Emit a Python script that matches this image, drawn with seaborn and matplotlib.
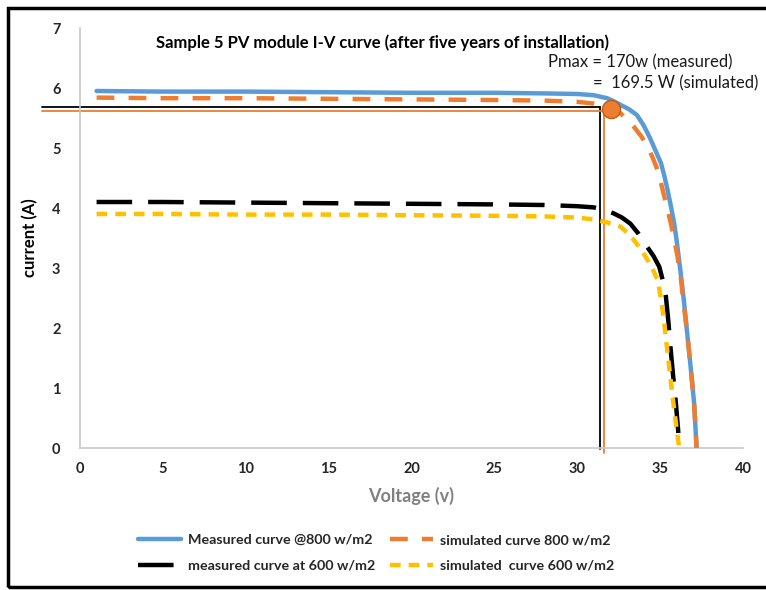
import matplotlib
matplotlib.use("Agg")
import matplotlib.pyplot as plt
import seaborn as sns
from matplotlib.patches import Rectangle

# measured curve @800 w/m2 (blue, solid)
v_meas_800 = [1, 5, 10, 15, 20, 25, 28, 30, 31, 31.8, 32.2, 32.6, 33.1, 33.6, 34.0, 34.4, 34.7, 35.05, 35.25,
              35.45, 35.65, 35.85, 36.0, 36.15, 36.3, 36.45, 36.6, 36.75, 36.9, 37.05, 37.2]
i_meas_800 = [5.95, 5.94, 5.94, 5.93, 5.92, 5.92, 5.91, 5.90, 5.88, 5.83, 5.78, 5.72, 5.65, 5.55, 5.38, 5.16, 4.97,
              4.75, 4.54, 4.30, 4.03, 3.74, 3.45, 3.12, 2.78, 2.41, 2.00, 1.60, 1.18, 0.75, 0.0]

# simulated curve 800 w/m2 (orange, dashed)
v_sim_800 = [1, 5, 10, 15, 20, 25, 28, 30, 31, 31.6, 32.1, 32.6, 33.0, 33.4, 33.85, 34.25, 34.55, 34.85, 35.05,
             35.25, 35.45, 35.65, 35.85, 36.05, 36.25, 36.4, 36.6, 36.75, 36.9, 37.05, 37.2]
i_sim_800 = [5.84, 5.83, 5.83, 5.82, 5.81, 5.80, 5.79, 5.77, 5.74, 5.70, 5.66, 5.58, 5.48, 5.36, 5.20, 5.02, 4.84,
             4.63, 4.42, 4.19, 3.97, 3.74, 3.47, 3.19, 2.83, 2.45, 2.00, 1.60, 1.18, 0.75, 0.0]

# measured curve at 600 w/m2 (black, long dashes)
v_meas_600 = [1, 5, 10, 15, 20, 25, 28, 30, 31, 31.6, 32.2, 32.7, 33.2, 33.7, 34.2, 34.6, 34.95, 35.2, 35.35,
              35.5, 35.6, 35.75, 35.95, 36.1, 36.15]
i_meas_600 = [4.10, 4.10, 4.09, 4.08, 4.07, 4.06, 4.05, 4.03, 4.01, 3.97, 3.91, 3.84, 3.74, 3.57, 3.36, 3.20,
              3.02, 2.75, 2.52, 2.10, 1.75, 1.30, 0.75, 0.25, 0.0]

# simulated curve 600 w/m2 (yellow, short dashes)
v_sim_600 = [1, 5, 10, 15, 20, 25, 28, 30, 31, 31.8, 32.6, 33.0, 33.4, 33.85, 34.25, 34.6, 34.85, 35.0, 35.15,
             35.3, 35.45, 35.6, 35.75, 35.95, 36.15]
i_sim_600 = [3.90, 3.90, 3.89, 3.89, 3.88, 3.87, 3.86, 3.84, 3.81, 3.76, 3.69, 3.59, 3.47, 3.31, 3.13, 2.95,
             2.80, 2.57, 2.30, 1.95, 1.58, 1.22, 0.86, 0.42, 0.0]

# max power point guides
vmp_meas, imp_meas = 31.4, 5.69
vmp_sim, imp_sim = 31.6, 5.62
mpp_v, mpp_i = [32.05], [5.65]
guide_start = -2.3

labels = ["Measured curve @800 w/m2", "simulated curve 800 w/m2",
          "measured curve at 600 w/m2", "simulated  curve 600 w/m2"]

sns.set_theme(style="white")
plt.rcParams["font.family"] = ["Lato", "DejaVu Sans"]

fig = plt.figure(figsize=(7.66, 5.90), dpi=100)
ax = fig.add_axes([80 / 766, 1 - 448 / 590, 663 / 766, 420 / 590])

blue, orange, yellow = "#5B9BD5", "#ED7D31", "#FFC000"

# guide lines to Pmax
ax.plot([guide_start, vmp_meas], [imp_meas, imp_meas], color="black", lw=1.3, clip_on=False, zorder=2)
ax.plot([vmp_meas, vmp_meas], [-0.02, imp_meas], color="black", lw=1.3, clip_on=False, zorder=2)
ax.plot([guide_start, vmp_sim], [imp_sim, imp_sim], color=orange, lw=1.3, clip_on=False, zorder=2)
ax.plot([vmp_sim, vmp_sim], [-0.08, imp_sim], color=orange, lw=1.3, clip_on=False, zorder=2)

line_kw = dict(lw=3.2, sort=False, estimator=None, solid_joinstyle="round", dash_joinstyle="round")
sns.lineplot(x=v_meas_800, y=i_meas_800, ax=ax, color=blue, label=labels[0], zorder=3, **line_kw)
sns.lineplot(x=v_sim_800, y=i_sim_800, ax=ax, color=orange, label=labels[1],
             linestyle=(0, (4, 3.2)), zorder=4, **line_kw)
sns.lineplot(x=v_meas_600, y=i_meas_600, ax=ax, color="black", label=labels[2],
             linestyle=(0, (8, 3.6)), zorder=3, **line_kw)
sns.lineplot(x=v_sim_600, y=i_sim_600, ax=ax, color=yellow, label=labels[3],
             linestyle=(0, (2.4, 1.8)), zorder=4, **line_kw)

sns.scatterplot(x=mpp_v, y=mpp_i, ax=ax, s=170, color=orange, edgecolor="#C55A11",
                linewidth=1, zorder=6, legend=False, clip_on=False)

ax.set_xlim(0, 40)
ax.set_ylim(0, 7)
ax.set_xticks(range(0, 41, 5))
ax.set_yticks(range(0, 8))
for s in ["top", "right"]:
    ax.spines[s].set_visible(False)
for s in ["left", "bottom"]:
    ax.spines[s].set_color("#C8C8C8")
    ax.spines[s].set_linewidth(1.2)
ax.tick_params(length=0, labelsize=10.5, labelcolor="#262626")
ax.tick_params(axis="x", pad=10)
ax.tick_params(axis="y", pad=14)
for t in ax.get_xticklabels() + ax.get_yticklabels():
    t.set_fontweight("bold")

ax.set_xlabel("Voltage (v)", fontsize=13, fontweight="bold", color="#808080", labelpad=8)
ax.set_ylabel("current (A)", fontsize=12, fontweight="bold", color="black", labelpad=10)

fig.text(383 / 766, 1 - 43 / 590, "Sample 5 PV module I-V curve (after five years of installation)",
         ha="center", va="center", fontsize=12, fontweight="bold", color="black")
fig.text(732 / 766, 1 - 62 / 590, "Pmax = 170w (measured)", ha="right", va="center",
         fontsize=12, color="#1a1a1a")
fig.text(758 / 766, 1 - 83 / 590, "=  169.5 W (simulated)", ha="right", va="center",
         fontsize=12, color="#1a1a1a")

h, l = ax.get_legend_handles_labels()
ax.get_legend().remove()
order = [0, 2, 1, 3]
fig.legend([h[k] for k in order], [l[k] for k in order], ncol=2, frameon=False,
           loc="center", bbox_to_anchor=(376 / 766, 1 - 553 / 590),
           prop={"weight": "bold", "size": 10.3}, handlelength=3.0, handletextpad=0.5,
           columnspacing=1.0, labelspacing=0.95)

# outer frame of the pasted chart
fig.patches.append(Rectangle((8 / 766, 1 - 587 / 590), 1.2, (587 - 8) / 590,
                             transform=fig.transFigure, fill=False, lw=2.5,
                             edgecolor="black", zorder=10))

fig.savefig("out.png", dpi=100)
